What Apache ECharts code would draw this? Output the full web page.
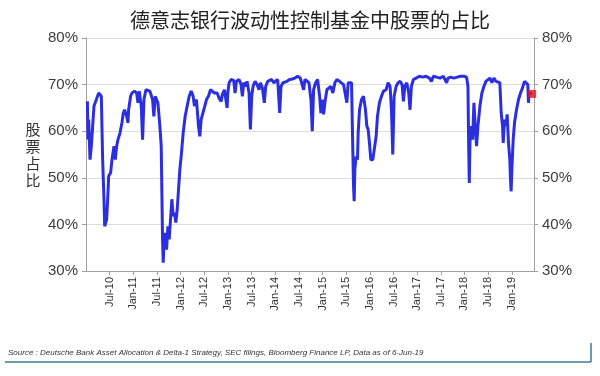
<!DOCTYPE html>
<html>
<head>
<meta charset="utf-8">
<script src="https://cdn.jsdelivr.net/npm/echarts@6/dist/echarts.min.js"></script>
<style>
  html, body { margin: 0; padding: 0; background: #fff; }
  #chart { width: 600px; height: 376px; }
</style>
</head>
<body>
<div id="chart"></div>
<script>
// dates as decimal years, equity share in %
var dates = [
  2010.029, 2010.043, 2010.057, 2010.085, 2010.113, 2010.141, 2010.169, 2010.219, 2010.268, 2010.296,
  2010.324, 2010.352, 2010.380, 2010.395, 2010.423, 2010.437, 2010.465, 2010.479, 2010.521, 2010.549,
  2010.591, 2010.620, 2010.648, 2010.676, 2010.718, 2010.760, 2010.788, 2010.816, 2010.859, 2010.887,
  2010.901, 2010.943, 2010.971, 2011.027, 2011.070, 2011.098, 2011.126, 2011.168, 2011.196, 2011.225,
  2011.267, 2011.309, 2011.351, 2011.379, 2011.407, 2011.435, 2011.464, 2011.520, 2011.562, 2011.590,
  2011.604, 2011.618, 2011.632, 2011.646, 2011.674, 2011.703, 2011.731, 2011.759, 2011.787, 2011.815,
  2011.843, 2011.871, 2011.899, 2011.928, 2011.956, 2011.984, 2012.012, 2012.054, 2012.096, 2012.139,
  2012.181, 2012.223, 2012.265, 2012.293, 2012.335, 2012.378, 2012.406, 2012.434, 2012.462, 2012.490,
  2012.518, 2012.547, 2012.589, 2012.631, 2012.673, 2012.715, 2012.772, 2012.814, 2012.856, 2012.884,
  2012.926, 2012.954, 2012.983, 2012.997, 2013.025, 2013.067, 2013.123, 2013.151, 2013.180, 2013.236,
  2013.278, 2013.306, 2013.334, 2013.376, 2013.404, 2013.447, 2013.475, 2013.503, 2013.531, 2013.573,
  2013.616, 2013.658, 2013.686, 2013.728, 2013.770, 2013.798, 2013.841, 2013.883, 2013.925, 2013.967,
  2014.009, 2014.052, 2014.094, 2014.122, 2014.164, 2014.206, 2014.248, 2014.305, 2014.361, 2014.417,
  2014.473, 2014.530, 2014.572, 2014.600, 2014.628, 2014.670, 2014.713, 2014.755, 2014.783, 2014.811,
  2014.853, 2014.895, 2014.938, 2014.965, 2014.994, 2015.022, 2015.050, 2015.092, 2015.134, 2015.176,
  2015.218, 2015.261, 2015.303, 2015.359, 2015.401, 2015.444, 2015.486, 2015.514, 2015.542, 2015.584,
  2015.613, 2015.641, 2015.655, 2015.669, 2015.683, 2015.711, 2015.739, 2015.753, 2015.782, 2015.824,
  2015.866, 2015.908, 2015.936, 2015.964, 2015.992, 2016.020, 2016.063, 2016.105, 2016.133, 2016.161,
  2016.203, 2016.246, 2016.288, 2016.344, 2016.386, 2016.428, 2016.457, 2016.485, 2016.513, 2016.555,
  2016.597, 2016.640, 2016.682, 2016.710, 2016.738, 2016.780, 2016.822, 2016.850, 2016.878, 2016.921,
  2016.977, 2017.047, 2017.118, 2017.188, 2017.258, 2017.301, 2017.343, 2017.385, 2017.412, 2017.483,
  2017.553, 2017.595, 2017.623, 2017.652, 2017.708, 2017.778, 2017.848, 2017.919, 2017.989, 2018.045,
  2018.074, 2018.088, 2018.102, 2018.116, 2018.144, 2018.172, 2018.200, 2018.228, 2018.256, 2018.285,
  2018.327, 2018.369, 2018.411, 2018.453, 2018.495, 2018.538, 2018.580, 2018.622, 2018.664, 2018.706,
  2018.748, 2018.777, 2018.805, 2018.819, 2018.847, 2018.875, 2018.903, 2018.931, 2018.959, 2018.973,
  2018.987, 2019.002, 2019.030, 2019.058, 2019.100, 2019.143, 2019.185, 2019.227, 2019.269, 2019.311,
  2019.339, 2019.353, 2019.367, 2019.381, 2019.400, 2019.430
];
var equityShare = [
  66.4, 58.2, 62.5, 53.9, 56.8, 61.1, 65.4, 66.8, 68.2, 68.4,
  67.5, 53.9, 45.4, 39.6, 39.6, 41.1, 46.8, 50.4, 51.1, 53.9,
  56.8, 53.9, 56.8, 58.2, 59.6, 61.8, 63.9, 64.6, 63.2, 61.8,
  64.6, 67.5, 68.2, 68.6, 68.2, 66.1, 68.6, 65.4, 58.2, 66.8,
  68.9, 69.3, 68.6, 68.2, 66.8, 63.2, 67.5, 66.1, 61.1, 56.8,
  46.8, 36.8, 31.8, 35.4, 38.2, 34.6, 39.6, 36.8, 41.1, 45.4,
  41.8, 42.5, 40.4, 43.2, 47.5, 51.8, 54.6, 59.6, 63.2, 65.4,
  67.5, 68.6, 67.5, 65.4, 66.8, 61.1, 58.9, 62.5, 62.5, 64.6,
  64.3, 66.8, 67.5, 68.9, 68.6, 68.2, 68.2, 67.1, 66.4, 67.9,
  68.9, 69.3, 65.0, 68.2, 70.4, 71.1, 70.9, 68.2, 70.7, 71.1,
  70.0, 67.5, 70.4, 69.6, 70.7, 68.2, 60.4, 67.5, 69.6, 70.7,
  70.0, 68.9, 70.4, 69.3, 66.1, 69.6, 70.7, 70.4, 71.1, 70.4,
  70.7, 71.1, 63.9, 69.6, 70.4, 70.0, 70.7, 71.1, 71.2, 71.4,
  71.8, 71.4, 71.1, 68.9, 71.1, 71.1, 70.4, 66.8, 60.0, 68.9,
  70.4, 71.1, 67.5, 63.9, 66.8, 63.6, 66.1, 68.9, 68.6, 69.6,
  68.2, 70.4, 71.1, 70.7, 70.9, 70.0, 70.4, 66.1, 70.4, 70.7,
  70.4, 55.4, 48.2, 45.0, 51.8, 54.6, 53.9, 59.6, 64.6, 66.8,
  67.5, 64.6, 61.1, 60.4, 57.5, 53.9, 53.9, 53.6, 58.9, 63.2,
  66.1, 67.5, 68.6, 68.9, 70.4, 69.6, 64.6, 55.0, 67.5, 69.6,
  70.4, 70.7, 70.0, 66.4, 69.6, 70.4, 68.2, 64.6, 69.6, 71.1,
  71.4, 71.8, 71.6, 71.8, 71.4, 70.7, 71.8, 71.8, 71.6, 71.4,
  71.8, 71.4, 70.4, 71.4, 71.6, 71.4, 71.6, 71.8, 71.8, 71.6,
  69.6, 57.5, 48.9, 57.5, 61.1, 58.2, 66.1, 61.1, 56.8, 61.1,
  65.4, 68.2, 69.6, 70.7, 71.1, 71.4, 70.4, 71.4, 70.7, 71.1,
  70.4, 63.9, 61.1, 57.5, 62.5, 61.1, 63.6, 57.5, 53.9, 49.6,
  47.1, 51.8, 58.2, 61.8, 64.6, 66.8, 68.2, 69.3, 70.7, 71.1,
  70.0, 66.1, 68.2, 68.6, 68.3, 68.0
];
var latest = [2019.430, 68.0];
var yTicks = [30, 40, 50, 60, 70, 80];

var chart = echarts.init(document.getElementById('chart'));

var yAxisBase = {
  type: 'value',
  min: yTicks[0],
  max: yTicks[yTicks.length - 1],
  interval: 10,
  axisLine: { show: true, lineStyle: { color: '#a0a0a0' } },
  axisTick: { show: true, length: 4, lineStyle: { color: '#a0a0a0' } },
  axisLabel: { formatter: '{value}%', fontSize: 15, color: '#3c3c3c', fontFamily: 'Liberation Sans' }
};

chart.setOption({
  animation: false,
  title: {
    text: '德意志银行波动性控制基金中股票的占比',
    left: 125,
    top: 5,
    textStyle: { fontSize: 20, fontWeight: 'normal', color: '#222', fontFamily: 'Noto Sans CJK SC' }
  },
  grid: { left: 86, right: 66, top: 38, bottom: 105 },
  xAxis: {
    type: 'value',
    min: 2010,
    max: 2019.47,
    interval: 0.5,
    axisLine: { lineStyle: { color: '#a0a0a0' } },
    axisTick: { length: 4, lineStyle: { color: '#a0a0a0' } },
    splitLine: { show: false },
    axisLabel: {
      rotate: 90,
      fontSize: 11,
      color: '#333',
      margin: 6,
      showMinLabel: false,
      showMaxLabel: false,
      fontFamily: 'Liberation Sans',
      formatter: function (v) {
        var yr = Math.floor(v + 0.001);
        var half = (v - yr) > 0.25 ? 'Jul-' : 'Jan-';
        return half + String(yr).slice(2);
      }
    }
  },
  yAxis: [
    Object.assign({}, yAxisBase, {
      position: 'left',
      name: '股\n票\n占\n比',
      nameLocation: 'middle',
      nameRotate: 0,
      nameGap: 53,
      nameTextStyle: { fontSize: 15, color: '#333', lineHeight: 17, fontFamily: 'Noto Sans CJK SC', align: 'center', verticalAlign: 'middle' },
      splitLine: { show: true, lineStyle: { color: '#dedede' } }
    }),
    Object.assign({}, yAxisBase, {
      position: 'right',
      splitLine: { show: false }
    })
  ],
  series: [
    {
      type: 'line',
      data: dates.map(function (d, i) { return [d, equityShare[i]]; }),
      showSymbol: false,
      lineStyle: { width: 3, color: '#2b2fe0' },
      itemStyle: { color: '#2b2fe0' }
    },
    {
      type: 'scatter',
      data: [latest],
      symbol: 'rect',
      symbolSize: 8,
      itemStyle: { color: '#e8101c' },
      z: 5
    }
  ],
  graphic: [
    {
      type: 'text',
      left: 8,
      top: 349,
      style: {
        text: 'Source : Deutsche Bank Asset Allocation & Delta-1 Strategy, SEC filings, Bloomberg Finance LP, Data as of 6-Jun-19',
        font: 'italic 8px Liberation Sans',
        fill: '#333'
      }
    },
    {
      type: 'line',
      shape: { x1: 5, y1: 362, x2: 591, y2: 362 },
      style: { stroke: '#3a7b90', lineWidth: 1.5 }
    },
    {
      type: 'line',
      shape: { x1: 591, y1: 343, x2: 591, y2: 362 },
      style: { stroke: '#3a7b90', lineWidth: 1.5 }
    }
  ]
});
</script>
</body>
</html>
